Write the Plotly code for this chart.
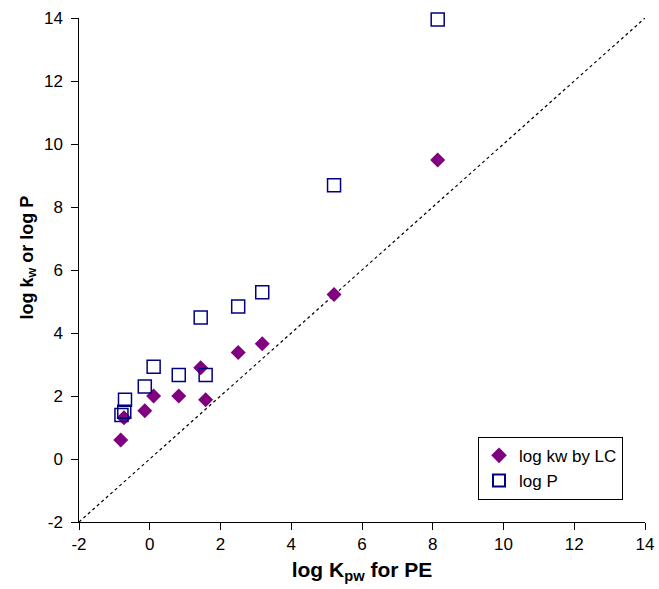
import plotly.graph_objects as go

kpw_lc = [-0.82, -0.73, -0.14, 0.11, 0.82, 1.44, 1.58, 2.5, 3.18, 5.21, 8.14]
logkw_lc = [0.6, 1.31, 1.53, 2.0, 2.0, 2.9, 1.88, 3.38, 3.66, 5.22, 9.49]

kpw_p = [-0.8, -0.72, -0.7, -0.14, 0.11, 0.82, 1.58, 1.44, 2.5, 3.18, 5.21, 8.14]
logp = [1.4, 1.5, 1.88, 2.3, 2.93, 2.67, 2.67, 4.49, 4.84, 5.29, 8.69, 13.95]

line_xy = [-2, 14]
tick_vals = list(range(-2, 15, 2))
tick_text = [str(v) for v in tick_vals]

fig = go.Figure()
fig.add_trace(go.Scatter(x=line_xy, y=line_xy, mode="lines",
                         line=dict(color="black", width=1.2, dash="dot"),
                         showlegend=False, hoverinfo="skip"))
fig.add_trace(go.Scatter(x=kpw_lc, y=logkw_lc, mode="markers", name="log kw by LC",
                         cliponaxis=False,
                         marker=dict(symbol="diamond", size=11.5, color="#800080",
                                     line=dict(width=0))))
fig.add_trace(go.Scatter(x=kpw_p, y=logp, mode="markers", name="log P",
                         cliponaxis=False,
                         marker=dict(symbol="square-open", size=13, color="#000080",
                                     line=dict(width=1.5, color="#000080"))))

fig.update_layout(
    width=659, height=589,
    margin=dict(l=79, r=14, t=18, b=67),
    plot_bgcolor="white", paper_bgcolor="white",
    font=dict(family="Liberation Sans, Arial, sans-serif", size=17, color="black"),
    legend=dict(x=0.705, y=0.169, xanchor="left", yanchor="top",
                bordercolor="black", borderwidth=1, bgcolor="white",
                font=dict(size=17), itemsizing="constant", tracegroupgap=2),
    annotations=[dict(text="<b>log k<sub>w</sub> or log P</b>", textangle=-90,
                      xref="paper", yref="paper", x=-0.09, y=0.525,
                      xanchor="center", yanchor="middle", showarrow=False,
                      font=dict(size=18))],
)
fig.update_xaxes(range=[-2, 14], tickvals=tick_vals, ticktext=tick_text,
                 showline=True, linecolor="black", linewidth=1, mirror=False, automargin=False,
                 ticks="outside", ticklen=7, tickcolor="black", showgrid=False, zeroline=False,
                 title=dict(text="<b>log K<sub>pw</sub> for PE</b>", font=dict(size=21), standoff=8))
fig.update_yaxes(range=[-2, 14], tickvals=tick_vals, ticktext=[t + "\u00a0" for t in tick_text],
                 showline=True, linecolor="black", linewidth=1, mirror=False, automargin=False,
                 ticks="outside", ticklen=7, tickcolor="black", showgrid=False, zeroline=False)

fig.write_html("out.html")
